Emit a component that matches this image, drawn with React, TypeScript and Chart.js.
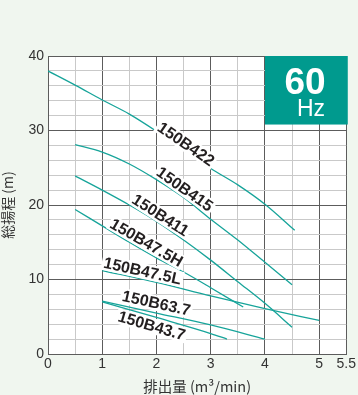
import React, { useEffect, useRef } from 'react';
import { Chart, registerables } from 'chart.js';

Chart.register(...registerables);

// ---- data (flow m3/min, total head m) ----
const Q_422 = [0, 0.5, 1, 1.5, 2, 2.5, 3, 3.5, 4, 4.55];
const H_422 = [38.0, 36.1, 34.1, 32.2, 29.9, 27.4, 24.9, 22.7, 20.1, 16.6];

const Q_415 = [0.5, 1, 1.5, 2, 2.5, 3, 3.5, 4, 4.5];
const H_415 = [28.1, 27.1, 25.5, 23.4, 21.0, 18.1, 15.3, 12.3, 9.3];

const Q_411 = [0.5, 1, 1.5, 2, 2.5, 3, 3.5, 4, 4.5];
const H_411 = [23.9, 22.0, 20.0, 17.8, 15.3, 12.6, 9.7, 6.8, 3.6];

const Q_475H = [0.5, 1, 1.5, 2, 2.5, 3, 3.6];
const H_475H = [19.4, 17.2, 15.0, 12.9, 11.0, 8.9, 6.3];

const Q_475L = [1, 2, 3, 4, 5];
const H_475L = [11.2, 9.6, 7.8, 6.1, 4.5];

const Q_637 = [1, 2, 3, 4];
const H_637 = [7.1, 5.5, 3.9, 2.0];

const Q_437 = [1, 2, 3, 3.3];
const H_437 = [7.0, 4.9, 2.75, 2.0];

const SERIES_NAMES = ['150B422', '150B415', '150B411', '150B47.5H', '150B47.5L', '150B63.7', '150B43.7'];
const SERIES_Q = [Q_422, Q_415, Q_411, Q_475H, Q_475L, Q_637, Q_437];
const SERIES_H = [H_422, H_415, H_411, H_475H, H_475L, H_637, H_437];

const X_TICK_LABELS = [0, 1, 2, 3, 4, 5, 5.5];
const Y_TICK_LABELS = [0, 10, 20, 30, 40];

const X_TITLE = '排出量 (m³/min)';
const Y_TITLE = '総揚程 (m)';
const BADGE_MAIN = '60';
const BADGE_SUB = 'Hz';

// label anchors along each curve: series index, flow at label centre, baseline offset (px, perpendicular)
const LABEL_SPECS = [
  { s: 0, at: 2.48, off: -1 },
  { s: 1, at: 2.44, off: -2.5 },
  { s: 2, at: 2.0, off: -2.2 },
  { s: 3, at: 1.74, off: -3 },
  { s: 4, at: 1.71, off: -3 },
  { s: 5, at: 1.96, off: -4.4 },
  { s: 6, at: 1.96, off: 14.5 },
];

const BG = '#f0f6ef';
const TEAL_LINE = '#17a49a';
const TEAL_BOX = '#009a8e';
const GRID_DARK = '#5c5c5c';
const GRID_LIGHT = '#c9c9c9';
const TEXT = '#333333';

function interp(xs: number[], ys: number[], x: number) {
  if (x <= xs[0]) return ys[0];
  for (let i = 1; i < xs.length; i++) {
    if (x <= xs[i]) {
      const t = (x - xs[i - 1]) / (xs[i] - xs[i - 1]);
      return ys[i - 1] + t * (ys[i] - ys[i - 1]);
    }
  }
  return ys[ys.length - 1];
}

const bgPlugin = {
  id: 'bgPlugin',
  beforeDraw(chart: any) {
    const { ctx, chartArea } = chart;
    ctx.save();
    ctx.fillStyle = BG;
    ctx.fillRect(0, 0, chart.width, chart.height);
    ctx.fillStyle = '#ffffff';
    ctx.fillRect(chartArea.left, chartArea.top, chartArea.right - chartArea.left, chartArea.bottom - chartArea.top);
    ctx.restore();
  },
};

const labelPlugin = {
  id: 'labelPlugin',
  afterDatasetsDraw(chart: any) {
    const { ctx } = chart;
    const xs = chart.scales.x;
    const ys = chart.scales.y;
    LABEL_SPECS.forEach((l) => {
      const q = SERIES_Q[l.s];
      const h = SERIES_H[l.s];
      const px = xs.getPixelForValue(l.at);
      const py = ys.getPixelForValue(interp(q, h, l.at));
      const ax = xs.getPixelForValue(l.at - 0.2);
      const ay = ys.getPixelForValue(interp(q, h, l.at - 0.2));
      const bx = xs.getPixelForValue(l.at + 0.2);
      const by = ys.getPixelForValue(interp(q, h, l.at + 0.2));
      const ang = Math.atan2(by - ay, bx - ax);
      const text = SERIES_NAMES[l.s];
      ctx.save();
      ctx.translate(px, py);
      ctx.rotate(ang);
      ctx.font = 'bold 16px "Liberation Sans", Arial, sans-serif';
      const w = ctx.measureText(text).width;
      ctx.fillStyle = '#ffffff';
      ctx.fillRect(-w / 2 - 2, l.off - 13, w + 4, 15.5);
      ctx.fillStyle = '#231f20';
      ctx.textAlign = 'center';
      ctx.textBaseline = 'alphabetic';
      ctx.fillText(text, 0, l.off);
      ctx.restore();
    });
  },
  afterDraw(chart: any) {
    const { ctx, chartArea } = chart;
    const xs = chart.scales.x;
    const ys = chart.scales.y;
    const left = Math.round(xs.getPixelForValue(4));
    const right = chartArea.right + 1.5;
    const top = chartArea.top;
    const bottom = ys.getPixelForValue(30.8);
    ctx.save();
    ctx.fillStyle = TEAL_BOX;
    ctx.fillRect(left, top, right - left, bottom - top);
    ctx.fillStyle = '#ffffff';
    ctx.textAlign = 'center';
    ctx.textBaseline = 'alphabetic';
    ctx.font = 'bold 37px "Liberation Sans", Arial, sans-serif';
    ctx.fillText(BADGE_MAIN, left + 40, top + 37.5);
    ctx.font = '23px "Liberation Sans", Arial, sans-serif';
    ctx.fillText(BADGE_SUB, left + 46, top + 60);
    ctx.restore();
  },
};

export default function App() {
  const ref = useRef<HTMLCanvasElement | null>(null);

  useEffect(() => {
    document.body.style.margin = '0';
    const canvas = ref.current;
    if (!canvas) return;
    const datasets = SERIES_NAMES.map((name, i) => ({
      label: name,
      data: SERIES_Q[i].map((q, j) => ({ x: q, y: SERIES_H[i][j] })),
      borderColor: TEAL_LINE,
      borderWidth: 1.3,
      pointRadius: 0,
      fill: false,
      cubicInterpolationMode: 'monotone' as const,
    }));
    const chart = new Chart(canvas, {
      type: 'line',
      data: { datasets },
      options: {
        animation: false,
        responsive: false,
        maintainAspectRatio: false,
        devicePixelRatio: 1,
        layout: { padding: { left: 0, top: 56, right: 11, bottom: 0 } },
        plugins: { legend: { display: false }, tooltip: { enabled: false }, title: { display: false } },
        scales: {
          x: {
            type: 'linear',
            min: 0,
            max: 5.5,
            afterFit: (s: any) => {
              s.height = 41;
            },
            ticks: {
              stepSize: 0.5,
              autoSkip: false,
              maxRotation: 0,
              padding: 2,
              color: TEXT,
              font: { family: '"Liberation Sans", Arial, sans-serif', size: 14 },
              callback: (v: any) => (X_TICK_LABELS.includes(Number(v)) ? String(v) : ''),
            },
            grid: {
              drawTicks: false,
              lineWidth: 1,
              color: (c: any) =>
                c.tick && X_TICK_LABELS.includes(Number(c.tick.value)) ? GRID_DARK : GRID_LIGHT,
            },
            border: { display: true, color: GRID_DARK, width: 1 },
            title: {
              display: true,
              text: X_TITLE,
              color: TEXT,
              font: { family: '"Noto Sans CJK JP", sans-serif', size: 14.5, lineHeight: 1.2 },
              padding: { top: 0, bottom: 0 },
            },
          },
          y: {
            type: 'linear',
            min: 0,
            max: 40,
            afterFit: (s: any) => {
              s.width = 48;
            },
            ticks: {
              stepSize: 2,
              autoSkip: false,
              padding: 4,
              color: TEXT,
              font: { family: '"Liberation Sans", Arial, sans-serif', size: 14 },
              callback: (v: any) => (Y_TICK_LABELS.includes(Number(v)) ? String(v) : ''),
            },
            grid: {
              drawTicks: false,
              lineWidth: 1,
              color: (c: any) =>
                c.tick && Y_TICK_LABELS.includes(Number(c.tick.value)) ? GRID_DARK : GRID_LIGHT,
            },
            border: { display: true, color: GRID_DARK, width: 1 },
            title: {
              display: true,
              text: Y_TITLE,
              color: TEXT,
              font: { family: '"Noto Sans CJK JP", sans-serif', size: 14, lineHeight: 1.1 },
              padding: { top: 0, bottom: 0 },
            },
          },
        },
      },
      plugins: [bgPlugin, labelPlugin],
    } as any);
    return () => chart.destroy();
  }, []);

  return (
    <div style={{ position: 'fixed', left: 0, top: 0, width: 358, height: 395, background: BG }}>
      <canvas ref={ref} width={358} height={395} style={{ width: 358, height: 395, display: 'block' }} />
    </div>
  );
}
